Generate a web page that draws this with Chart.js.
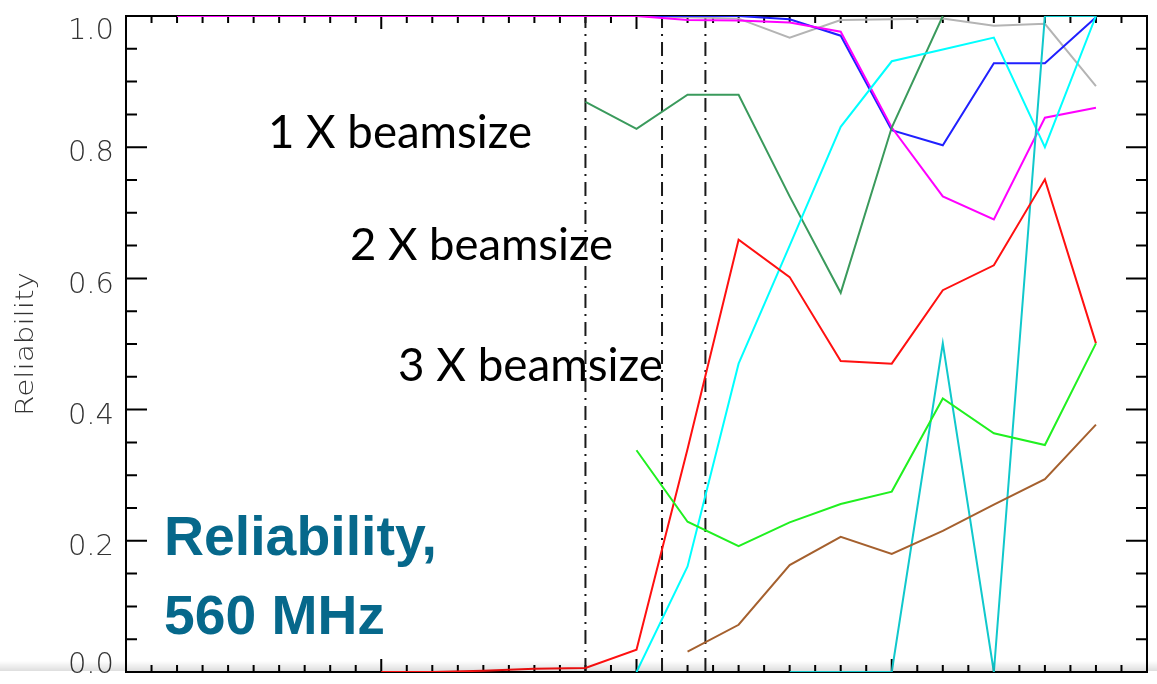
<!DOCTYPE html>
<html>
<head>
<meta charset="utf-8">
<script src="https://cdn.jsdelivr.net/npm/chart.js@4/dist/chart.umd.min.js"></script>
<style>
  html, body { margin: 0; padding: 0; background: #fff; }
  #wrap { position: relative; width: 1157px; height: 684px; overflow: hidden; background: #fff; }
  #plot { display: block; }
  #shade {
    position: absolute; left: 0; top: 661px; width: 1157px; height: 10px;
    background: linear-gradient(to bottom, rgba(0,0,0,0), rgba(0,0,0,0.13));
    pointer-events: none;
  }
</style>
</head>
<body>
<div id="wrap">
  <canvas id="plot" width="1157" height="684"></canvas>
  <div id="shade"></div>
</div>
<script>
// Sampling positions along the x axis (shared by every curve)
const steps = [0.2, 0.4, 0.6, 0.8, 1.0, 1.2, 1.4, 1.6, 1.8, 2.0,
               2.2, 2.4, 2.6, 2.8, 3.0, 3.2, 3.4, 3.6, 3.8];

// Reliability curves (null = no measurement at that step)
const magentaVals = [1, 1, 1, 1, 1, 1, 1, 1, 1, 1,
                     0.994, 0.993, 0.990, 0.976, 0.830, 0.725, 0.690, 0.845, 0.860];
const blueVals    = [null, null, null, null, 1, 1, 1, 1, 1, 1,
                     1, 1, 0.995, 0.970, 0.826, 0.803, 0.928, 0.928, 0.998];
const grayVals    = [null, null, null, null, null, null, null, null, null, 1,
                     0.998, 0.996, 0.967, 0.994, 0.995, 0.996, 0.985, 0.988, 0.893];
const seaGreenVals = [null, null, null, null, null, null, null, null, 0.869, 0.828,
                      0.880, 0.880, 0.725, 0.578, 0.830, 1.0, null, null, null];
const aquaVals    = [null, null, null, null, null, null, null, null, null, 0,
                     0.161, 0.470, 0.650, 0.831, 0.931, 0.949, 0.967, 0.800, 1.0];
const turquoiseVals = [null, null, null, null, null, null, null, null, null, null,
                       null, null, 0, 0, 0, 0.501, 0, 1.0, 1.0];
const redVals     = [null, null, null, null, 0, 0, 0.002, 0.005, 0.006, 0.034,
                     0.340, 0.659, 0.602, 0.474, 0.470, 0.582, 0.620, 0.751, 0.501];
const limeVals    = [null, null, null, null, null, null, null, null, null, 0.338,
                     0.229, 0.192, 0.228, 0.256, 0.275, 0.417, 0.364, 0.346, 0.501];
const brownVals   = [null, null, null, null, null, null, null, null, null, null,
                     0.031, 0.072, 0.163, 0.206, 0.180, 0.215, 0.255, 0.294, 0.377];

// Vertical dash-dot markers (1x, 2x, 3x beamsize)
const cutoffs = [1.8, 2.1, 2.27];

// Axis ticks
const yTicks = [0, 0.2, 0.4, 0.6, 0.8, 1.0];
const yTickLabels = ['0.0', '0.2', '0.4', '0.6', '0.8', '1.0'];
const yTitle = 'Reliability';

// Text annotations
const beamNotes = ['1 X beamsize', '2 X beamsize', '3 X beamsize'];
const panelTitle = ['Reliability,', '560 MHz'];

function toPoints(vals) {
  return steps.map((x, i) => ({ x: x, y: vals[i] }));
}

function curve(vals, color) {
  return {
    data: toPoints(vals),
    borderColor: color,
    borderWidth: 2,
    pointRadius: 0,
    fill: false,
    tension: 0,
    spanGaps: false
  };
}

// Later entries are drawn on top
const curveList = [
  curve(grayVals, '#b4b4b4'),
  curve(blueVals, '#2020ff'),
  curve(magentaVals, '#ff00ff'),
  curve(seaGreenVals, '#3a9a5c'),
  curve(aquaVals, '#00ffff'),
  curve(turquoiseVals, '#10c8cc'),
  curve(redVals, '#ff1010'),
  curve(limeVals, '#20f020'),
  curve(brownVals, '#a5602e')
];

const markerList = cutoffs.map(c => ({
  data: [{ x: c, y: 0 }, { x: c, y: 1 }],
  borderColor: '#1a1a1a',
  borderWidth: 2,
  borderDash: [14, 6, 2, 6],
  pointRadius: 0,
  fill: false
}));

const datasets = markerList.concat(curveList);
datasets.forEach((d, i) => { d.order = datasets.length - i; });

// Box frame with inward ticks on all four sides, and the y tick labels
const framePlugin = {
  id: 'frame',
  beforeDatasetsDraw(chart) {
    const { ctx, chartArea: a, scales: { x, y } } = chart;
    ctx.save();
    ctx.strokeStyle = '#000';
    ctx.lineWidth = 2;
    ctx.strokeRect(a.left, a.top, a.right - a.left, a.bottom - a.top);

    ctx.beginPath();
    // x: minor every 0.1, major every 1
    for (let i = 1; i < 40; i++) {
      const px = x.getPixelForValue(i / 10);
      const len = (i % 10 === 0) ? 13 : 7;
      ctx.moveTo(px, a.bottom); ctx.lineTo(px, a.bottom - len);
      ctx.moveTo(px, a.top);    ctx.lineTo(px, a.top + len);
    }
    // y: minor every 0.05, major every 0.2
    for (let i = 1; i < 20; i++) {
      const py = y.getPixelForValue(i / 20);
      const len = (i % 4 === 0) ? 21 : 11;
      ctx.moveTo(a.left, py);  ctx.lineTo(a.left + len, py);
      ctx.moveTo(a.right, py); ctx.lineTo(a.right - len, py);
    }
    ctx.stroke();

    // y tick labels
    ctx.fillStyle = '#333';
    ctx.font = '200 29px "DejaVu Sans", sans-serif';
    ctx.textAlign = 'right';
    ctx.textBaseline = 'alphabetic';
    yTicks.forEach((v, i) => {
      let dy = 14.2;
      if (v === 1) dy = 23.4;
      if (v === 0) dy = 1.4;
      ctx.fillText(yTickLabels[i], 114, y.getPixelForValue(v) + dy);
    });

    // y axis title, rotated
    ctx.save();
    ctx.font = '200 25px "DejaVu Sans", sans-serif';
    const w = ctx.measureText(yTitle).width;
    const mid = (y.getPixelForValue(0) + y.getPixelForValue(1)) / 2;
    ctx.translate(33, mid + 72);
    ctx.rotate(-Math.PI / 2);
    ctx.scale(144 / w, 1);
    ctx.textAlign = 'left';
    ctx.fillText(yTitle, 0, 0);
    ctx.restore();
    ctx.restore();
  },
  afterDraw(chart) {
    const { ctx } = chart;
    ctx.save();
    ctx.textAlign = 'left';
    ctx.textBaseline = 'alphabetic';

    // beamsize annotations
    const noteSpots = [[268, 148, 264], [350, 260, 263], [398, 381, 265]];
    ctx.fillStyle = '#000';
    beamNotes.forEach((t, i) => {
      const [nx, ny, nw] = noteSpots[i];
      ctx.font = '50px Lato, "Open Sans", sans-serif';
      const m = ctx.measureText(t).width;
      const size = 50 * nw / m;
      ctx.font = size.toFixed(2) + 'px Lato, "Open Sans", sans-serif';
      ctx.fillText(t, nx, ny);
    });

    // panel title
    const titleSpots = [[164, 555, 273], [164, 634, 221]];
    ctx.fillStyle = '#06688b';
    panelTitle.forEach((t, i) => {
      const [tx, ty, tw] = titleSpots[i];
      ctx.font = 'bold 55px "Liberation Sans", Arial, sans-serif';
      const m = ctx.measureText(t).width;
      const size = 55 * tw / m;
      ctx.font = 'bold ' + size.toFixed(2) + 'px "Liberation Sans", Arial, sans-serif';
      ctx.fillText(t, tx, ty);
    });
    ctx.restore();
  }
};

new Chart(document.getElementById('plot'), {
  type: 'line',
  data: { datasets: datasets },
  options: {
    responsive: false,
    animation: false,
    events: [],
    layout: { padding: { left: 126, right: 10, top: 16, bottom: 12 } },
    plugins: { legend: { display: false }, tooltip: { enabled: false }, title: { display: false } },
    scales: {
      x: { type: 'linear', min: 0, max: 4, display: false },
      y: { type: 'linear', min: 0, max: 1, display: false }
    }
  },
  plugins: [framePlugin]
});
</script>
</body>
</html>
